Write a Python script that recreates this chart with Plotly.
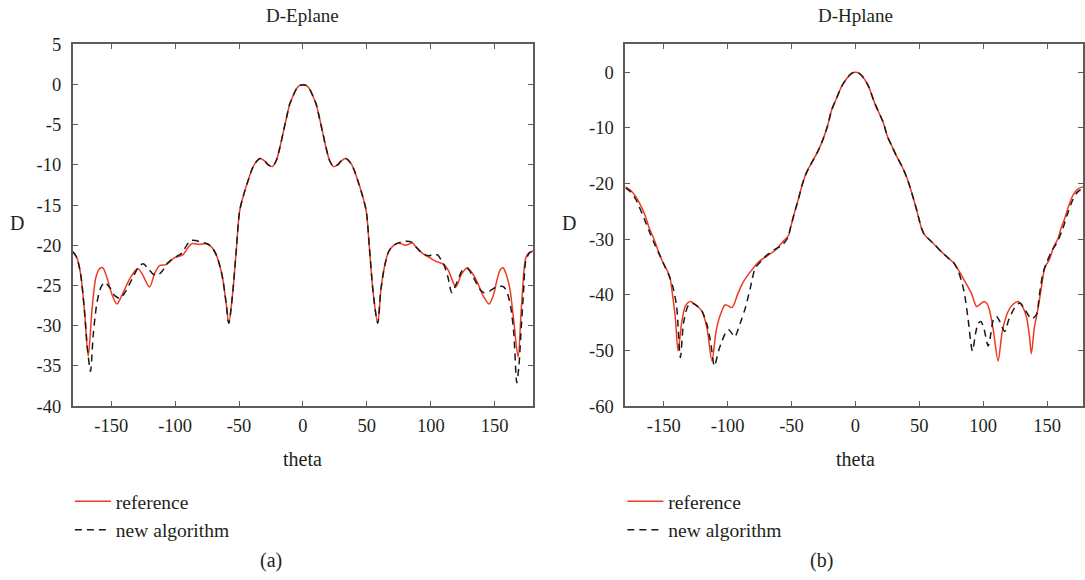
import plotly.graph_objects as go

# ---------------- data ----------------
# E-plane, reference (red)
e_ref_theta = [-180, -177, -174, -171, -168, -165, -162, -159, -156.5, -153, -149, -145.5, -141, -136,
               -131, -129, -126, -120, -116, -112, -107, -104, -100, -94, -90, -87, -81, -75, -71,
               -67.5, -64, -62.5, -60, -58, -55, -52, -49.5, -46, -43, -40, -37.5, -33.5, -30, -27,
               -24, -21, -18, -15.5, -12, -10.5, -8, -5, -2.5, 0,
               2.5, 5, 8, 10.5, 12, 15.5, 18, 21, 24, 27, 30, 33.5, 37.5, 40, 43, 46, 49.5, 52, 55,
               58.5, 61, 64, 67, 71, 75, 80.5, 85.5, 89, 93.5, 98.8, 104, 110.5, 114, 119.6, 124,
               128.7, 133, 137, 141, 145.6, 149, 152, 154.5, 156.6, 159, 162, 165, 168.3, 171,
               174.3, 177, 180]
e_ref_d = [-20.8, -21.5, -23.5, -28.0, -33.8, -28.0, -24.0, -22.9, -22.8, -24.2, -26.3, -27.3, -26.0, -24.3,
           -23.1, -22.9, -23.5, -25.2, -23.5, -22.5, -22.4, -22.0, -21.5, -21.2, -20.3, -19.8, -19.9, -19.8, -20.3,
           -21.3, -23.2, -24.4, -27.3, -29.7, -26.0, -20.3, -15.7, -13.5, -12.0, -10.6, -9.8, -9.2, -9.5, -10.0,
           -10.2, -9.5, -7.8, -6.0, -3.5, -2.5, -1.5, -0.5, -0.1, 0.0,
           -0.1, -0.5, -1.5, -2.5, -3.5, -6.0, -7.8, -9.5, -10.2, -10.0, -9.5, -9.2, -9.8, -10.6, -12.0, -13.5, -15.7, -20.3, -26.0,
           -29.7, -25.5, -22.5, -20.8, -20.0, -19.7, -20.0, -19.7, -20.3, -21.0, -21.5, -22.0, -22.4, -23.2, -25.2, -23.6,
           -22.8, -23.6, -24.8, -26.3, -27.3, -26.2, -24.2, -23.0, -22.8, -23.6, -25.5, -29.5, -33.9, -27.5,
           -21.6, -20.9, -20.7]

# E-plane, new algorithm (black dashed)
e_new_theta = [-180, -177, -174, -171, -168.5, -166.2, -164, -161, -158, -155, -151, -147, -143, -139,
               -134, -129, -125, -121, -117, -113.5, -110, -107, -103, -99, -95, -91, -88, -84, -80,
               -75, -71, -67.5, -64, -62.5, -60, -58, -55, -52, -49.5, -46, -43, -40, -37.5, -33.5, -30, -27,
               -24, -21, -18, -15.5, -12, -10.5, -8, -5, -2.5, 0,
               2.5, 5, 8, 10.5, 12, 15.5, 18, 21, 24, 27, 30, 33.5, 37.5, 40, 43, 46, 49.5, 52, 55,
               58.5, 61, 64, 67, 71, 75, 80, 85, 89, 93.5, 98.8, 102, 105.3, 108, 110.5, 113.5, 116.5,
               120, 124.8, 128.7, 132, 136, 139, 141.7, 146, 150.9, 155, 157.3, 160, 162.6, 165, 167.3,
               169, 170.5, 172.5, 174.3, 177, 180]
e_new_d = [-20.8, -21.5, -23.5, -28.0, -33.0, -35.7, -31.0, -27.0, -25.2, -24.6, -25.3, -26.3, -26.6, -25.8,
           -24.3, -22.8, -22.3, -22.9, -23.6, -23.7, -23.2, -22.4, -21.8, -21.4, -21.0, -20.0, -19.4, -19.4, -19.6,
           -19.8, -20.3, -21.3, -23.2, -24.4, -27.3, -29.7, -26.0, -20.3, -15.7, -13.5, -12.0, -10.6, -9.8, -9.2, -9.5, -10.0,
           -10.2, -9.5, -7.8, -6.0, -3.5, -2.5, -1.5, -0.5, -0.1, 0.0,
           -0.1, -0.5, -1.5, -2.5, -3.5, -6.0, -7.8, -9.5, -10.2, -10.0, -9.5, -9.2, -9.8, -10.6, -12.0, -13.5, -15.7, -20.3, -26.0,
           -29.7, -25.5, -22.5, -20.8, -20.0, -19.7, -19.5, -19.6, -20.3, -21.0, -21.3, -21.1, -21.2, -21.8, -22.5, -24.0, -25.9,
           -24.8, -23.1, -22.9, -23.6, -24.8, -25.6, -25.9, -25.7, -25.2, -25.1, -25.2, -26.0, -27.7, -31.0, -37.1,
           -35.0, -31.0, -26.0, -22.0, -21.0, -20.7]

# H-plane, reference (red)
h_ref_theta = [-180, -176, -172, -169.5, -165, -161.7, -158, -154, -150, -147.4, -145, -143.5, -141, -138.8,
               -136, -133, -129.1, -125, -120.1, -116.2, -112.3, -109, -105.7, -101.8, -96.6, -92, -87.5,
               -82, -75.8, -69, -62.7, -57, -52.3, -51, -48, -44.5, -42, -39.3, -36.5, -34.1, -30, -26.3,
               -22, -18.5, -15, -10.7, -6, -3, 0,
               3, 6, 10.2, 15, 21.9, 25, 28.4, 32, 36.2, 40, 44, 48, 51.8, 54, 57, 62, 67, 72.7, 76.6,
               80, 85.7, 90.9, 94.8, 97, 100.8, 103, 105.2, 108, 111.7, 115, 119.5, 123, 127.3, 131,
               133.8, 136, 137.7, 140, 143, 146, 148.2, 152.1, 155, 158.6, 161, 163.8, 167, 170.3, 174,
               178, 180]
h_ref_d = [-20.6, -21.2, -22.3, -23.3, -25.5, -27.8, -29.8, -32.3, -34.5, -35.6, -37.0, -39.4, -44.0, -50.1,
           -45.0, -42.0, -41.2, -41.8, -43.0, -46.0, -51.9, -46.5, -43.6, -41.8, -42.3, -39.8, -37.6,
           -35.8, -34.1, -33.0, -32.0, -30.5, -29.3, -28.1, -25.5, -22.7, -20.5, -18.6, -17.2, -16.2, -14.5, -12.6,
           -9.8, -6.7, -4.8, -2.5, -0.9, -0.2, 0.0,
           -0.2, -0.9, -2.5, -5.5, -9.1, -11.5, -13.2, -15.0, -16.8, -18.8, -21.6, -24.8, -28.1, -29.2, -29.9, -31.0, -32.2, -33.4, -34.2,
           -35.3, -37.6, -39.8, -42.1, -41.8, -41.2, -41.6, -43.0, -46.5, -51.9, -46.5, -43.0, -41.8, -41.2, -42.2,
           -43.9, -47.0, -50.6, -46.0, -42.4, -38.0, -35.2, -33.5, -31.5, -29.9, -28.0, -26.3, -24.0, -22.1, -21.0,
           -20.6, -20.5]

# H-plane, new algorithm (black dashed)
h_new_theta = [-180, -176, -172, -169, -165, -161, -157, -153, -149, -146, -143, -140, -137, -134.5,
               -131, -127.9, -124, -120, -116, -113, -110.4, -107, -104.4, -101.5, -99.2, -96.5, -94.5,
               -90, -86.2, -82, -78.4, -74, -70, -64, -57.6, -53, -51, -48, -44.5, -42, -39.3, -36.5, -34.1,
               -30, -26.3, -22, -18.5, -15, -10.7, -6, -3, 0,
               3, 6, 10.2, 15, 21.9, 25, 28.4, 32, 36.2, 40, 44, 48, 51.8, 54, 57, 62, 67, 72.7, 76.6,
               80, 83, 85.7, 88, 91.6, 94, 96, 98.2, 100.5, 103.9, 106, 108, 110.4, 113, 116.9, 120,
               124.7, 128.7, 133, 137.7, 141.6, 144, 146.9, 150, 154, 158, 162, 166, 170, 174, 180]
h_new_d = [-20.8, -21.5, -22.8, -24.3, -26.5, -28.8, -31.0, -33.0, -35.0, -36.5, -38.5, -42.0, -51.3, -45.0,
           -42.0, -41.5, -42.0, -43.0, -45.5, -49.0, -52.8, -50.0, -48.3, -46.8, -46.3, -47.0, -47.6,
           -45.0, -42.4, -38.5, -35.2, -34.0, -33.0, -32.0, -31.1, -29.8, -28.1, -25.5, -22.7, -20.5, -18.6, -17.2, -16.2,
           -14.5, -12.6, -9.8, -6.7, -4.8, -2.5, -0.9, -0.2, 0.0,
           -0.2, -0.9, -2.5, -5.5, -9.1, -11.5, -13.2, -15.0, -16.8, -18.8, -21.6, -24.8, -28.1, -29.2, -29.9, -31.0, -32.2, -33.4, -34.1,
           -35.5, -37.5, -40.3, -44.0, -50.1, -47.0, -45.2, -44.8, -46.0, -49.2, -47.0, -44.5, -43.9, -44.8, -46.6, -44.5,
           -42.3, -41.5, -42.8, -44.3, -43.6, -40.0, -36.0, -34.0, -32.0, -30.5, -28.3, -25.5, -23.0, -21.5, -20.6]

x_tickvals = [-150, -100, -50, 0, 50, 100, 150]
x_ticktext = ["-150", "-100", "-50", "0", "50", "100", "150"]
e_y_tickvals = [5, 0, -5, -10, -15, -20, -25, -30, -35, -40]
e_y_ticktext = ["5", "0", "-5", "-10", "-15", "-20", "-25", "-30", "-35", "-40"]
h_y_tickvals = [0, -10, -20, -30, -40, -50, -60]
h_y_ticktext = ["0", "-10", "-20", "-30", "-40", "-50", "-60"]

series_names = ["reference", "new algorithm"]
panel_titles = ["D-Eplane", "D-Hplane"]
captions = ["(a)", "(b)"]

# ---------------- style ----------------
W, H = 1085, 580
# observed mapping of figure y to the photographed picture: shot_y = A + B * fig_y
A_OFF, B_SC = 8.5, 0.9667
FONT = "Liberation Serif, Times New Roman, Times, DejaVu Serif, serif"
TXT = "#231f20"
AX = "#5c5c5c"
RED = "#ee3a23"
DASH = "7px,5px"

def px(x):
    return x / W

def fy(y):
    # target picture y -> figure pixel y
    return (y - A_OFF) / B_SC

def py(y):
    return 1 - fy(y) / H

L1, R1 = 73, 534
L2 = 626.6
R2_full = 1087.4
TOP, BOT = 43, 405

fig = go.Figure()
fig.add_trace(go.Scatter(x=e_ref_theta, y=e_ref_d, mode="lines", name=series_names[0],
                         line=dict(color=RED, width=1.5, shape="spline", smoothing=0.8),
                         xaxis="x", yaxis="y", legend="legend"))
fig.add_trace(go.Scatter(x=e_new_theta, y=e_new_d, mode="lines", name=series_names[1],
                         line=dict(color="#1a1a1a", width=1.5, dash=DASH, shape="spline", smoothing=0.8),
                         xaxis="x", yaxis="y", legend="legend"))
fig.add_trace(go.Scatter(x=h_ref_theta, y=h_ref_d, mode="lines", name=series_names[0],
                         line=dict(color=RED, width=1.5, shape="spline", smoothing=0.8),
                         xaxis="x2", yaxis="y2", legend="legend2"))
fig.add_trace(go.Scatter(x=h_new_theta, y=h_new_d, mode="lines", name=series_names[1],
                         line=dict(color="#1a1a1a", width=1.5, dash=DASH, shape="spline", smoothing=0.8),
                         xaxis="x2", yaxis="y2", legend="legend2"))

axis_common = dict(showline=True, linecolor=AX, linewidth=2, mirror="allticks",
                   ticks="inside", ticklen=5, tickwidth=1.3, tickcolor=AX,
                   showgrid=False, zeroline=False,
                   tickfont=dict(family=FONT, size=18.5, color=TXT))

r2_deg = 180 - (R2_full - W) / 1.28

fig.update_layout(
    width=W, height=H, autosize=False,
    margin=dict(l=0, r=0, t=0, b=0),
    paper_bgcolor="white", plot_bgcolor="white",
    showlegend=True,
    xaxis=dict(domain=[px(L1), px(R1)], range=[-180, 180], tickvals=x_tickvals, ticktext=x_ticktext,
               anchor="y", ticklabelstandoff=2, **axis_common),
    yaxis=dict(domain=[py(BOT), py(TOP)], range=[-40, 5], tickvals=e_y_tickvals, ticktext=e_y_ticktext,
               anchor="x", ticklabelstandoff=6, **axis_common),
    xaxis2=dict(domain=[px(L2), 1.0], range=[-180, r2_deg], tickvals=x_tickvals, ticktext=x_ticktext,
                anchor="y2", ticklabelstandoff=2, **axis_common),
    yaxis2=dict(domain=[py(BOT), py(TOP)], range=[-60, 5], tickvals=h_y_tickvals, ticktext=h_y_ticktext,
                anchor="x2", ticklabelstandoff=6, **axis_common),
    legend=dict(x=px(70), y=1 - 489 / H, xanchor="left", yanchor="top", bgcolor="rgba(0,0,0,0)",
                font=dict(family=FONT, size=19.5, color=TXT), itemwidth=36, tracegroupgap=0),
    legend2=dict(x=px(623.5), y=1 - 489 / H, xanchor="left", yanchor="top", bgcolor="rgba(0,0,0,0)",
                 font=dict(family=FONT, size=19.5, color=TXT), itemwidth=36, tracegroupgap=0),
)

def ann(text, x, y, size):
    fig.add_annotation(text=text, x=px(x), y=py(y), xref="paper", yref="paper",
                       xanchor="center", yanchor="middle", showarrow=False,
                       font=dict(family=FONT, size=size, color=TXT))

ann(panel_titles[0], (L1 + R1) / 2, 14, 19)
ann(panel_titles[1], (L2 + R2_full) / 2, 14, 19)
ann("theta", (L1 + R1) / 2, 458, 20)
ann("theta", (L2 + R2_full) / 2, 458, 20)
ann("D", 16.7, 222, 20)
ann("D", 570, 222, 20)
ann(captions[0], 271.5, 560, 20)
ann(captions[1], 823, 560, 20)

fig.write_html("out.html")
